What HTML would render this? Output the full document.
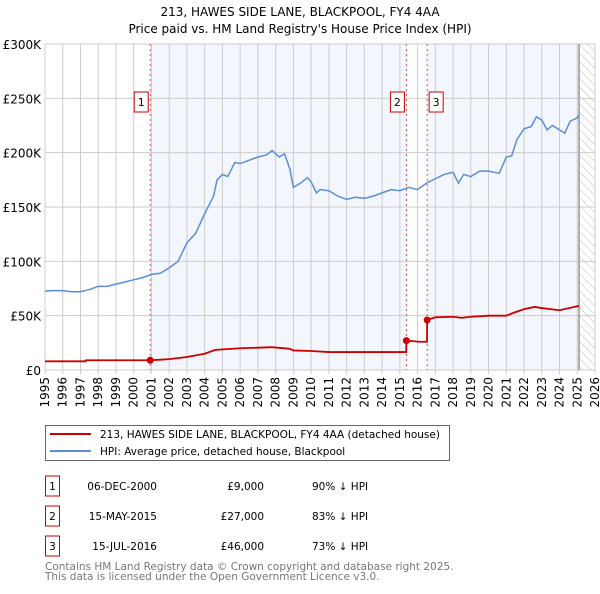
<!DOCTYPE html>
<html><head><meta charset="utf-8"><style>
body{margin:0;background:#fff;font-family:"DejaVu Sans","Liberation Sans",sans-serif;}
svg text{font-family:"DejaVu Sans","Liberation Sans",sans-serif;}
</style></head><body>
<svg id="c" width="600" height="590" xmlns="http://www.w3.org/2000/svg"></svg>
<script>
const yearTicks=[1995,1996,1997,1998,1999,2000,2001,2002,2003,2004,2005,2006,2007,2008,2009,2010,2011,2012,2013,2014,2015,2016,2017,2018,2019,2020,2021,2022,2023,2024,2025,2026];
const priceTicks=[0,50,100,150,200,250,300];
const priceTickLabels=["£0","£50K","£100K","£150K","£200K","£250K","£300K"];
const hpiYears=[1995,1995.5,1996,1996.5,1997,1997.5,1998,1998.5,1999,1999.5,2000,2000.5,2001,2001.5,2002,2002.5,2003,2003.5,2004,2004.5,2004.7,2005,2005.3,2005.7,2006,2006.5,2007,2007.5,2007.8,2008.2,2008.5,2008.8,2009,2009.4,2009.8,2010,2010.3,2010.5,2011,2011.5,2012,2012.5,2013,2013.5,2014,2014.5,2015,2015.5,2016,2016.5,2017,2017.5,2018,2018.3,2018.6,2019,2019.5,2020,2020.6,2021,2021.3,2021.6,2022,2022.4,2022.7,2023,2023.3,2023.6,2024,2024.3,2024.6,2025,2025.1];
const hpiValues=[72.7,73,73,72,72,74,77,77,79,81,83,85,88,89,94,100,117,126,144,160,175,180,178,191,190,193,196,198,202,196,199,185,168,172,177,173,163,166,165,160,157,159,158,160,163,166,165,168,166,172,176,180,182,172,180,178,183,183,181,196,197,212,222,224,233,230,221,225,221,218,229,232,235];
const ppYears=[1995,1997.3,1997.31,2000.93,2001.5,2002,2003,2004,2004.6,2006,2007.8,2008.8,2009,2010,2011,2015.36,2015.37,2016.1,2016.53,2016.54,2017,2018,2018.5,2019,2020,2021,2021.3,2022,2022.6,2023,2024,2025.1];
const ppValues=[8,8,9,9,9.5,10,12,15,18.5,20,21,19.5,18,17.5,16.5,16.5,27,26,26,46,48.5,49,48,49,50,50,52,56,58,57,55,59];
const saleYears=[2000.93,2015.37,2016.54];
const saleValues=[9,27,46];
const saleLabels=["1","2","3"];
const NS="http://www.w3.org/2000/svg";
const svg=document.getElementById('c');
const X0=45,X1=595,Y0=370,Y1=44;
const xs=y=>X0+(y-1995)/(2026-1995)*(X1-X0);
const ys=v=>Y0-v/300*(Y0-Y1);
function mk(t,a,p){const e=document.createElementNS(NS,t);for(const k in a)e.setAttribute(k,a[k]);(p||svg).appendChild(e);return e;}
// title
let t=mk('text',{x:300,y:16,'text-anchor':'middle','font-size':12,fill:'#000'});t.textContent="213, HAWES SIDE LANE, BLACKPOOL, FY4 4AA";


t=mk('text',{x:300,y:33,'text-anchor':'middle','font-size':12,fill:'#000'});t.textContent="Price paid vs. HM Land Registry's House Price Index (HPI)";


// shading
const defs=mk('defs',{});
const pat=mk('pattern',{id:'h',width:6,height:6,patternUnits:'userSpaceOnUse',patternTransform:'rotate(-45)'},defs);
mk('line',{x1:0,y1:0,x2:0,y2:6,stroke:'#bbb','stroke-width':1},pat);
let r=mk('rect',{x:xs(saleYears[0]),y:Y1,width:xs(saleYears[1])-xs(saleYears[0]),height:Y0-Y1,fill:'#f3f6fd'});


r=mk('rect',{x:xs(saleYears[2]),y:Y1,width:xs(2025.1)-xs(saleYears[2]),height:Y0-Y1,fill:'#f3f6fd'});


r=mk('rect',{x:xs(2025.1),y:Y1,width:X1-xs(2025.1),height:Y0-Y1,fill:'url(#h)'});


// grid
yearTicks.forEach(y=>{mk('line',{x1:xs(y),x2:xs(y),y1:Y1,y2:Y0+4,stroke:'#ccc','stroke-width':1});
 const tx=xs(y),l=mk('text',{x:0,y:0,'font-size':12,fill:'#000','text-anchor':'end',transform:`translate(${tx+4},${Y0+7}) rotate(-90)`});l.textContent=y;
 
 });
priceTicks.forEach((v,i)=>{mk('line',{x1:X0,x2:X1,y1:ys(v),y2:ys(v),stroke:'#ccc','stroke-width':1});
 const l=mk('text',{x:X0-4,y:ys(v)+5,'font-size':12,fill:'#000','text-anchor':'end'});l.textContent=priceTickLabels[i];
 
 });
mk('rect',{x:X0,y:Y1,width:X1-X0,height:Y0-Y1,fill:'none',stroke:'#ccc'});
mk('line',{x1:xs(2025.1),x2:xs(2025.1),y1:Y1,y2:Y0,stroke:'#999','stroke-width':1.5});
// sale lines & boxes
saleYears.forEach((y,i)=>{mk('line',{x1:xs(y),x2:xs(y),y1:Y1,y2:Y0,stroke:'#e05050','stroke-width':1,'stroke-dasharray':'2,3'});
 const bx=i==2?xs(y)+2:xs(y)-16;
 const g=mk('g',{});
 
 
 mk('rect',{x:bx,y:92,width:14,height:20,fill:'#fff',stroke:'#c00'},g);
 const l=mk('text',{x:bx+7,y:106,'font-size':11,'text-anchor':'middle',fill:'#000'},g);l.textContent=saleLabels[i];});
// lines
let p=mk('polyline',{points:hpiYears.map((y,i)=>xs(y)+','+ys(hpiValues[i])).join(' '),fill:'none',stroke:'#5b8ed6','stroke-width':1.5});


p=mk('polyline',{points:ppYears.map((y,i)=>xs(y)+','+ys(ppValues[i])).join(' '),fill:'none',stroke:'#cc0000','stroke-width':1.8});


saleYears.forEach((y,i)=>{const c=mk('circle',{cx:xs(y),cy:ys(saleValues[i]),r:3.5,fill:'#cc0000'});
 
 });
// legend
const lg=mk('g',{});


mk('rect',{x:45.5,y:425.5,width:404,height:35,fill:'#fff',stroke:'#666'},lg);
mk('line',{x1:50,x2:91,y1:434,y2:434,stroke:'#cc0000','stroke-width':2},lg);
mk('line',{x1:50,x2:91,y1:451,y2:451,stroke:'#5b8ed6','stroke-width':2},lg);
t=mk('text',{x:100,y:438,'font-size':10.5,fill:'#000'},lg);t.textContent="213, HAWES SIDE LANE, BLACKPOOL, FY4 4AA (detached house)";
t=mk('text',{x:100,y:455,'font-size':10.5,fill:'#000'},lg);t.textContent="HPI: Average price, detached house, Blackpool";
// table
const rows=[["1","06-DEC-2000","£9,000","90% ↓ HPI"],["2","15-MAY-2015","£27,000","83% ↓ HPI"],["3","15-JUL-2016","£46,000","73% ↓ HPI"]];
rows.forEach((rw,i)=>{const yy=483+i*30;const g=mk('g',{});
 
 
 mk('rect',{x:45.5,y:yy-7,width:14,height:20,fill:'#fff',stroke:'#c00'},g);
 let a=mk('text',{x:52.5,y:yy+7,'font-size':10.5,'text-anchor':'middle'},g);a.textContent=rw[0];
 a=mk('text',{x:157,y:yy+7,'font-size':10.5,'text-anchor':'end'},g);a.textContent=rw[1];
 a=mk('text',{x:264,y:yy+7,'font-size':10.5,'text-anchor':'end'},g);a.textContent=rw[2];
 a=mk('text',{x:312,y:yy+7,'font-size':10.5},g);a.textContent=rw[3];});
t=mk('text',{x:45,y:570,'font-size':10.5,fill:'#777'});t.textContent="Contains HM Land Registry data © Crown copyright and database right 2025.";


t=mk('text',{x:45,y:580,'font-size':10.5,fill:'#777'});t.textContent="This data is licensed under the Open Government Licence v3.0.";


</script>
</body></html>
